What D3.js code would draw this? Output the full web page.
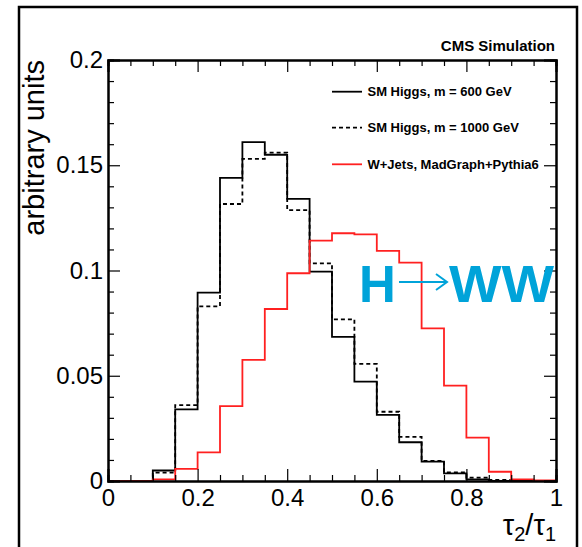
<!DOCTYPE html>
<html>
<head>
<meta charset="utf-8">
<script src="https://cdn.jsdelivr.net/npm/d3@7"></script>
<style>
  body { margin: 0; background: #fff; overflow: hidden; }
  svg { display: block; }
  text { font-family: "Liberation Sans", Arial, sans-serif; }
</style>
</head>
<body>
<div id="chart"></div>
<script>
// bin edges of tau2/tau1 (20 bins)
const binEdges = [0, 0.05, 0.1, 0.15, 0.2, 0.25, 0.3, 0.35, 0.4, 0.45, 0.5,
                  0.55, 0.6, 0.65, 0.7, 0.75, 0.8, 0.85, 0.9, 0.95, 1];

// bin contents
const higgs600 = [0, 0, 0.005, 0.034, 0.0895, 0.144, 0.161, 0.155, 0.134, 0.0995,
                  0.0685, 0.0472, 0.0314, 0.0184, 0.0092, 0.0036, 0.0008, 0, 0, 0];
const higgs1000 = [0, 0, 0.004, 0.036, 0.083, 0.1316, 0.153, 0.156, 0.1287, 0.1034,
                   0.0768, 0.0556, 0.0329, 0.021, 0.0096, 0.0041, 0.0016, 0.0005, 0, 0];
const wjets = [0, 0, 0.0008, 0.0058, 0.0136, 0.0356, 0.0575, 0.0817, 0.0987, 0.1142,
               0.1177, 0.1172, 0.1093, 0.1037, 0.0725, 0.0453, 0.0206, 0.0044, 0.0008, 0.0003];

const seriesNames = ["SM Higgs, m = 600 GeV", "SM Higgs, m = 1000 GeV", "W+Jets, MadGraph+Pythia6"];

const xTicks = [0, 0.2, 0.4, 0.6, 0.8, 1];
const xMinor = [0.05, 0.1, 0.15, 0.25, 0.3, 0.35, 0.45, 0.5, 0.55, 0.65, 0.7, 0.75, 0.85, 0.9, 0.95];
const yTicks = [0, 0.05, 0.1, 0.15, 0.2];
const yTickLabels = ["0", "0.05", "0.1", "0.15", "0.2"];
const yMinor = [0.01, 0.02, 0.03, 0.04, 0.06, 0.07, 0.08, 0.09, 0.11, 0.12, 0.13, 0.14,
                0.16, 0.17, 0.18, 0.19];

const width = 582, height = 547;
const margin = {top: 60, right: 26, bottom: 66, left: 108};
const innerWidth = width - margin.left - margin.right;
const innerHeight = height - margin.top - margin.bottom;

const x = d3.scaleLinear().domain([0, 1]).range([0, innerWidth]);
const y = d3.scaleLinear().domain([0, 0.2]).range([innerHeight, 0]);

const svg = d3.select("#chart").append("svg")
  .attr("width", width)
  .attr("height", height);

// canvas border (runs off the bottom of the picture)
svg.append("path")
  .attr("d", `M19,${height} V7 H577 V${height}`)
  .attr("fill", "none").attr("stroke", "#000").attr("stroke-width", 2.5);

const g = svg.append("g")
  .attr("transform", `translate(${margin.left}, ${margin.top})`);

// histograms as steps
function histPoints(vals) {
  const pts = vals.map((v, i) => [binEdges[i], v]);
  pts.push([binEdges[binEdges.length - 1], vals[vals.length - 1]]);
  return pts;
}
const step = d3.line()
  .x(d => x(d[0]))
  .y(d => y(d[1]))
  .curve(d3.curveStepAfter);

const styles = [
  {color: "#000", dash: null},
  {color: "#000", dash: "4,3"},
  {color: "#ff2020", dash: null}
];
[higgs600, higgs1000, wjets].forEach((vals, i) => {
  g.append("path")
    .attr("d", step(histPoints(vals)))
    .attr("fill", "none")
    .attr("stroke", styles[i].color)
    .attr("stroke-width", 1.8)
    .attr("stroke-dasharray", styles[i].dash);
});

// axes, ROOT style ticks inside
const tickFont = "24px";
const xAxis = d3.axisBottom(x).tickValues(xTicks).tickSize(-12)
  .tickFormat(d3.format("")).tickPadding(8);
const xAxisMinor = d3.axisBottom(x).tickValues(xMinor).tickSize(-6).tickFormat("");
const xTop = d3.axisTop(x).tickValues(xTicks).tickSize(-12).tickFormat("");
const xTopMinor = d3.axisTop(x).tickValues(xMinor).tickSize(-6).tickFormat("");
const yAxis = d3.axisLeft(y).tickValues(yTicks).tickSize(-12)
  .tickFormat((d, i) => yTickLabels[i]).tickPadding(5);
const yAxisMinor = d3.axisLeft(y).tickValues(yMinor).tickSize(-6).tickFormat("");
const yRight = d3.axisRight(y).tickValues(yTicks).tickSize(-12).tickFormat("");
const yRightMinor = d3.axisRight(y).tickValues(yMinor).tickSize(-6).tickFormat("");

function styleAxis(sel) {
  sel.selectAll(".domain").attr("stroke", "#000").attr("stroke-width", 2);
  sel.selectAll(".tick line").attr("stroke", "#000").attr("stroke-width", 1.2);
  sel.selectAll(".tick text")
    .attr("fill", "#000")
    .style("font-family", "'Liberation Sans', Arial, sans-serif")
    .style("font-size", tickFont);
}
// unlabelled axes: drop their empty text nodes
function noText(sel) {
  sel.selectAll(".tick text").remove();
}

g.append("g").attr("transform", `translate(0, ${innerHeight})`).call(xAxis).call(styleAxis);
g.append("g").attr("transform", `translate(0, ${innerHeight})`).call(xAxisMinor).call(styleAxis).call(noText);
g.append("g").call(xTop).call(styleAxis).call(noText);
g.append("g").call(xTopMinor).call(styleAxis).call(noText);
g.append("g").call(yAxis).call(styleAxis);
g.append("g").call(yAxisMinor).call(styleAxis).call(noText);
g.append("g").attr("transform", `translate(${innerWidth}, 0)`).call(yRight).call(styleAxis).call(noText);
g.append("g").attr("transform", `translate(${innerWidth}, 0)`).call(yRightMinor).call(styleAxis).call(noText);

// axis titles
svg.append("text")
  .attr("transform", `translate(44, ${margin.top}) rotate(-90)`)
  .attr("text-anchor", "end")
  .style("font-size", "29px")
  .text("arbitrary units");

const xt = svg.append("text")
  .attr("x", margin.left + innerWidth)
  .attr("y", 535)
  .attr("text-anchor", "end")
  .style("font-size", "29px");
xt.append("tspan").text("τ");
xt.append("tspan").attr("dy", 6).style("font-size", "20px").text("2");
xt.append("tspan").attr("dy", -6).text("/τ");
xt.append("tspan").attr("dy", 6).style("font-size", "20px").text("1");

// CMS label
svg.append("text")
  .attr("x", 555).attr("y", 51)
  .attr("text-anchor", "end")
  .style("font-size", "15px").style("font-weight", "bold")
  .text("CMS Simulation");

// legend
const legendY = [91.7, 127.7, 164.3];
const legend = svg.append("g");
seriesNames.forEach((name, i) => {
  legend.append("line")
    .attr("x1", 332).attr("x2", 362)
    .attr("y1", legendY[i]).attr("y2", legendY[i])
    .attr("stroke", styles[i].color)
    .attr("stroke-width", 1.8)
    .attr("stroke-dasharray", styles[i].dash);
  legend.append("text")
    .attr("x", 367.5).attr("y", legendY[i] + 4.6)
    .style("font-size", "13px").style("font-weight", "bold")
    .text(name);
});

// H -> WW
const hww = "#00a3d9";
svg.append("text")
  .attr("x", 359).attr("y", 302)
  .style("font-size", "51px").style("font-weight", "bold")
  .attr("fill", hww)
  .text("H");
svg.append("line")
  .attr("x1", 399).attr("x2", 447).attr("y1", 282).attr("y2", 282)
  .attr("stroke", hww).attr("stroke-width", 2);
svg.append("polyline")
  .attr("points", "436,274 447,282 436,290")
  .attr("fill", "none").attr("stroke", hww).attr("stroke-width", 2);
svg.append("text")
  .attr("x", 449).attr("y", 302)
  .attr("textLength", 105).attr("lengthAdjust", "spacingAndGlyphs")
  .style("font-size", "51px").style("font-weight", "bold")
  .attr("fill", hww)
  .text("WW");
</script>
</body>
</html>
